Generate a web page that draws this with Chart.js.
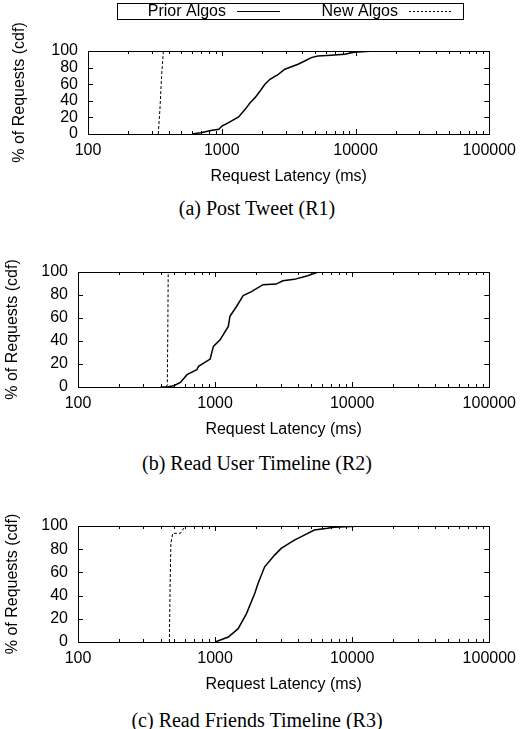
<!DOCTYPE html>
<html>
<head>
<meta charset="utf-8">
<script src="https://cdn.jsdelivr.net/npm/chart.js@4.4.0/dist/chart.umd.min.js"></script>
<style>
  body { margin: 0; background: #fff; width: 523px; height: 729px; position: relative; overflow: hidden; }
  canvas { position: absolute; left: 0; }
  .cap { position: absolute; left: 0; width: 514px; text-align: center; font-family: 'Liberation Serif', serif; font-size: 20px; line-height: 20px; color: #000; }
</style>
</head>
<body>
<canvas id="c1" width="523" height="195" style="top:0px"></canvas>
<canvas id="c2" width="523" height="218" style="top:230px"></canvas>
<canvas id="c3" width="523" height="219" style="top:484px"></canvas>
<div class="cap" style="top:198px">(a) Post Tweet (R1)</div>
<div class="cap" style="top:453px">(b) Read User Timeline (R2)</div>
<div class="cap" style="top:710px">(c) Read Friends Timeline (R3)</div>
<script>
const xTicks = [100, 1000, 10000, 100000];
const yTicks = [0, 20, 40, 60, 80, 100];
const seriesNames = ['Prior Algos', 'New Algos'];
const xTitle = 'Request Latency (ms)';
const yTitle = '% of Requests (cdf)';

// (a) Post Tweet
const tweetPriorMs  = [600, 695, 848, 950, 1003, 1125, 1336, 1496, 1629, 1773, 1935, 2102, 2293, 2645, 2963, 3717, 4166, 4669, 5237, 6560, 8280, 9780, 13770];
const tweetPriorPct = [0, 1.6, 4.4, 5.6, 9.6, 13.7, 20.5, 29.7, 37.7, 43.8, 51.8, 59.9, 65.9, 71.9, 78, 84, 88, 92, 94, 95, 96, 98.4, 100];
const tweetNewMs  = [335, 345, 355, 366];
const tweetNewPct = [0, 30, 70, 100];

// (b) Read User Timeline
const userPriorMs  = [400, 447, 500, 558, 624, 736, 757, 920, 972, 1087, 1248, 1283, 1433, 1602, 1841, 2235, 2788, 3119, 3785, 4730, 5585, 12820];
const userPriorPct = [0, 0, 1.1, 4, 10.7, 15, 18, 24.3, 35.3, 41, 52.7, 61.4, 70, 79.4, 83, 89, 89.5, 92.4, 93.6, 96.8, 99.7, 100];
const userNewMs  = [440, 448, 452, 455];
const userNewPct = [0, 2, 50, 100];

// (c) Read Friends Timeline
const friendsPriorMs  = [1000, 1248, 1473, 1694, 1946, 2056, 2299, 2716, 3034, 3785, 4475, 5290, 6595, 7340, 11800];
const friendsPriorPct = [0, 4.3, 11.5, 24.5, 41.8, 50.5, 64.8, 74.9, 80.7, 87.9, 92.2, 96.5, 98, 99, 100];
const friendsNewMs  = [464, 470, 476, 491, 558, 574, 607];
const friendsNewPct = [0, 50.4, 85, 93.7, 93.7, 96, 100];

const font = { family: 'Liberation Sans', size: 16, lineHeight: 1.2 };

function pts(xs, ys) {
  return xs.map((x, i) => ({ x: x, y: ys[i] }));
}

// gnuplot style box with ticks pointing inwards
const frame = {
  id: 'frame',
  afterDraw(chart) {
    const { ctx, chartArea: a, scales } = chart;
    const x = scales.x, y = scales.y;
    ctx.save();
    ctx.strokeStyle = '#000';
    ctx.lineWidth = 1;
    ctx.beginPath();
    for (let d = 100; d <= 100000; d *= 10) {
      for (let m = 1; m <= 9; m++) {
        const v = d * m;
        if (v > 100000) break;
        const px = Math.round(x.getPixelForValue(v)) + 0.5;
        const len = m === 1 ? 5 : 3;
        ctx.moveTo(px, a.top); ctx.lineTo(px, a.top + len);
        ctx.moveTo(px, a.bottom); ctx.lineTo(px, a.bottom - len);
      }
    }
    yTicks.forEach(v => {
      const py = Math.round(y.getPixelForValue(v)) + 0.5;
      ctx.moveTo(a.left, py); ctx.lineTo(a.left + 5, py);
      ctx.moveTo(a.right, py); ctx.lineTo(a.right - 5, py);
    });
    ctx.stroke();
    const l = Math.round(a.left) + 0.5, t = Math.round(a.top) + 0.5;
    ctx.strokeRect(l, t, Math.round(a.right) - Math.round(a.left), Math.round(a.bottom) - Math.round(a.top));
    ctx.restore();
  }
};

// key box on top of the first plot
const keyBox = {
  id: 'keyBox',
  afterDraw(chart, args, opts) {
    if (!opts.show) return;
    const ctx = chart.ctx;
    const ds = chart.data.datasets;
    ctx.save();
    ctx.strokeStyle = '#000';
    ctx.lineWidth = 1;
    ctx.strokeRect(117.5, 3.5, 346, 16);
    ctx.fillStyle = '#000';
    ctx.font = '16px "Liberation Sans"';
    ctx.textAlign = 'right';
    ctx.textBaseline = 'middle';
    ctx.fillText(ds[0].label, 226, 11.5);
    ctx.fillText(ds[1].label, 398, 11.5);
    ctx.beginPath();
    ctx.moveTo(237, 11.5); ctx.lineTo(280, 11.5);
    ctx.stroke();
    ctx.setLineDash([2, 2]);
    ctx.beginPath();
    ctx.moveTo(409, 11.5); ctx.lineTo(453, 11.5);
    ctx.stroke();
    ctx.restore();
  }
};

function makeChart(id, priorMs, priorPct, newMs, newPct, axisWidth, yTitlePad, padTop, showKey) {
  return new Chart(document.getElementById(id), {
    type: 'line',
    data: {
      datasets: [
        { label: seriesNames[0], data: pts(priorMs, priorPct), borderColor: '#000', borderWidth: 1.5, pointRadius: 0, fill: false, tension: 0 },
        { label: seriesNames[1], data: pts(newMs, newPct), borderColor: '#000', borderWidth: 1, borderDash: [3, 2], pointRadius: 0, fill: false, tension: 0 }
      ]
    },
    options: {
      responsive: false,
      animation: false,
      events: [],
      layout: { padding: { top: padTop, right: 30, left: 0, bottom: 0 } },
      plugins: { legend: { display: false }, tooltip: { enabled: false }, keyBox: { show: showKey } },
      scales: {
        x: {
          type: 'logarithmic',
          min: 100,
          max: 100000,
          grid: { display: false, drawTicks: false },
          border: { display: false },
          afterBuildTicks: s => { s.ticks = xTicks.map(v => ({ value: v })); },
          afterFit: s => { s.height = 61; },
          ticks: { color: '#000', font: font, padding: 7, maxRotation: 0, autoSkip: false, callback: v => String(v) },
          title: { display: true, text: xTitle, color: '#000', font: font, padding: { top: 0, bottom: 8.4 } }
        },
        y: {
          min: 0,
          max: 100,
          grid: { display: false, drawTicks: false },
          border: { display: false },
          afterBuildTicks: s => { s.ticks = yTicks.map(v => ({ value: v })); },
          afterFit: s => { s.width = axisWidth; },
          ticks: { color: '#000', font: font, padding: 10, autoSkip: false },
          title: { display: true, text: yTitle, color: '#000', font: font, padding: { top: yTitlePad, bottom: 0 } }
        }
      }
    },
    plugins: [frame, keyBox]
  });
}

makeChart('c1', tweetPriorMs, tweetPriorPct, tweetNewMs, tweetNewPct, 88, 10.4, 51, true);
makeChart('c2', userPriorMs, userPriorPct, userNewMs, userNewPct, 78, 2.6, 42, false);
makeChart('c3', friendsPriorMs, friendsPriorPct, friendsNewMs, friendsNewPct, 78, 3.4, 42, false);
</script>
</body>
</html>
